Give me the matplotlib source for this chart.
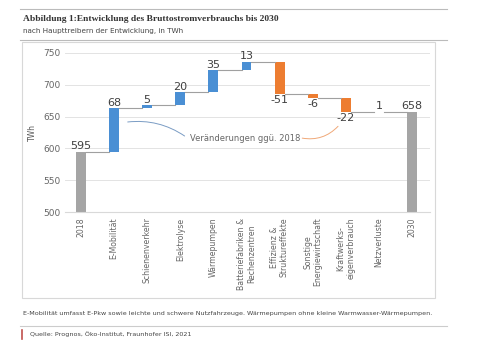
import matplotlib.pyplot as plt
from matplotlib.patches import Rectangle
from matplotlib.lines import Line2D

categories = ["2018", "E-Mobilität", "Schienenverkehr", "Elektrolyse", "Wärmepumpen",
              "Batteriefabriken &\nRechenzentren", "Effizienz &\nStruktureffekte",
              "Sonstige\nEnergiewirtschaft", "Kraftwerks-\neigenverbrauch", "Netzverluste", "2030"]
start_value = 595
changes = [68, 5, 20, 35, 13, -51, -6, -22, 1]
end_value = 658

blue = "#4a8fd4"
orange = "#ed7d31"
gray = "#a5a5a5"
txt = "#404040"

fig = plt.figure(figsize=(5, 3.53), dpi=100)

# frame lines / panel
fig.add_artist(Line2D([20/500, 447/500], [1-9/353, 1-9/353], color="#bbbbbb", lw=0.8))
fig.add_artist(Line2D([20/500, 447/500], [1-40/353, 1-40/353], color="#bbbbbb", lw=0.8))
fig.add_artist(Rectangle((22/500, 1-298/353), 413/500, 256/353, facecolor="white",
                         edgecolor="#d8d8d8", lw=0.8, zorder=-1))
fig.add_artist(Line2D([20/500, 447/500], [1-326/353, 1-326/353], color="#cccccc", lw=0.8))
fig.add_artist(Line2D([22/500, 22/500], [1-339/353, 1-330/353], color="#c0504d", lw=1.2))

fig.text(23/500, 1-19/353, "Abbildung 1:Entwicklung des Bruttostromverbrauchs bis 2030",
         family="Liberation Serif", fontweight="bold", fontsize=6.8, color="#333333", va="center")
fig.text(23/500, 1-31/353, "nach Haupttreibern der Entwicklung, in TWh",
         fontsize=5.2, color="#444444", va="center")
fig.text(23/500, 1-313/353, "E-Mobilität umfasst E-Pkw sowie leichte und schwere Nutzfahrzeuge. "
         "Wärmepumpen ohne kleine Warmwasser-Wärmepumpen.", fontsize=4.55, color="#444444", va="center")
fig.text(30/500, 1-334/353, "Quelle: Prognos, Öko-Institut, Fraunhofer ISI, 2021",
         fontsize=4.6, color="#444444", va="center")

ax = fig.add_axes([65/500, 1-212/353, 365/500, 159/353])
ax.patch.set_alpha(0)
ax.set_ylim(500, 750)
ax.set_xlim(-0.48, 10.54)
ax.set_yticks(range(500, 751, 50))
ax.yaxis.grid(True, color="#e3e3e3", lw=0.7)
ax.set_axisbelow(True)
for s in ax.spines.values():
    s.set_visible(False)
ax.spines["bottom"].set_visible(True)
ax.spines["bottom"].set_color("#d9d9d9")
ax.tick_params(length=0, labelsize=6.5, colors="#666666")
ax.set_ylabel("TWh", fontsize=5.5, color="#555555")
ax.set_xticks(range(len(categories)))
ax.set_xticklabels(categories, rotation=90, fontsize=5.6, va="top", linespacing=1.1)
ax.tick_params(axis="x", pad=4)

w = 0.3
# start bar
ax.bar(0, start_value - 500, bottom=500, width=w, color=gray)
ax.text(0, start_value + 1, str(start_value), ha="center", va="bottom", fontsize=8, color=txt)
level = start_value
prev_x = 0
for i, c in enumerate(changes, start=1):
    col = blue if c >= 0 else orange
    ax.bar(i, c, bottom=level, width=w, color=col)
    ax.plot([prev_x + w/2, i - w/2], [level, level], color="#a0a0a0", lw=0.8)
    new = level + c
    if c >= 0:
        ax.text(i, new + 1, str(c), ha="center", va="bottom", fontsize=8, color=txt)
    else:
        ax.text(i, new - 1, str(c), ha="center", va="top", fontsize=8, color=txt)
    level = new
    prev_x = i
n = len(categories) - 1
ax.plot([prev_x + w/2, n - w/2], [level, level], color="#a0a0a0", lw=0.8)
ax.bar(n, end_value - 500, bottom=500, width=w, color=gray)
ax.text(n, end_value + 1, str(end_value), ha="center", va="bottom", fontsize=8, color=txt)

ax.text(4.95, 616, "Veränderungen ggü. 2018", ha="center", va="center", fontsize=6, color="#666666")
ax.annotate("", xy=(1.33, 641), xytext=(3.2, 617),
            arrowprops=dict(arrowstyle="-", color="#7a9cc4", lw=0.7,
                            connectionstyle="arc3,rad=0.2"))
ax.annotate("", xy=(7.82, 638), xytext=(6.6, 617),
            arrowprops=dict(arrowstyle="-", color="#f0a878", lw=0.7,
                            connectionstyle="arc3,rad=0.3"))

fig.savefig("out.png", dpi=100)
